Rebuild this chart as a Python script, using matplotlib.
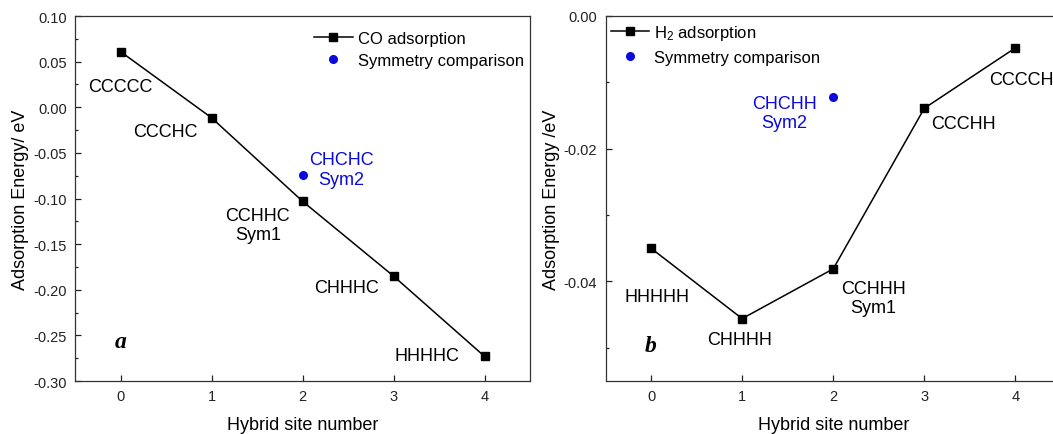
import matplotlib.pyplot as plt
from matplotlib.ticker import MultipleLocator, FormatStrFormatter

plt.rcParams['font.family'] = ['Liberation Sans', 'DejaVu Sans']
plt.rcParams['mathtext.default'] = 'regular'
plt.rcParams['axes.unicode_minus'] = False

# Hybrid site number on the x axis
sites = [0, 1, 2, 3, 4]

# (a) CO adsorption energies (eV)
co_energy = [0.061, -0.0115, -0.103, -0.185, -0.273]
co_labels = ['CCCCC', 'CCCHC', 'CCHHC\nSym1', 'CHHHC', 'HHHHC']
co_label_pos = [(0.0, 0.023), (0.49, -0.0265), (1.51, -0.129), (2.48, -0.197), (3.37, -0.272)]
co_sym_site = 2
co_sym_energy = -0.074
co_sym_label = 'CHCHC\nSym2'
co_sym_label_pos = (2.43, -0.068)

# (b) H2 adsorption energies (eV)
h2_energy = [-0.035, -0.0456, -0.0381, -0.0139, -0.0048]
h2_labels = ['HHHHH', 'CHHHH', 'CCHHH\nSym1', 'CCCHH', 'CCCCH']
h2_label_pos = [(0.06, -0.0422), (0.97, -0.0488), (2.44, -0.0425), (3.43, -0.0162), (4.06, -0.0095)]
h2_sym_site = 2
h2_sym_energy = -0.0122
h2_sym_label = 'CHCHH\nSym2'
h2_sym_label_pos = (1.46, -0.0146)

fig = plt.figure(figsize=(10.53, 4.35), dpi=100)
ax1 = fig.add_axes([75 / 1053, 53 / 435, 455 / 1053, 365 / 435])
ax2 = fig.add_axes([605.5 / 1053, 53 / 435, 455.5 / 1053, 365 / 435])

blue = '#0a0adc'
text_size = 13


def style_axes(ax, ymin, ymax, major, fmt):
    ax.set_xlim(-0.5, 4.5)
    ax.set_ylim(ymin, ymax)
    ax.set_xticks(sites)
    ax.yaxis.set_major_locator(MultipleLocator(major))
    ax.yaxis.set_minor_locator(MultipleLocator(major / 2))
    ax.yaxis.set_major_formatter(FormatStrFormatter(fmt))
    ax.tick_params(which='both', direction='in', top=False, right=False,
                   labelsize=10.5, width=0.9, colors='#222222', pad=6)
    ax.tick_params(which='major', length=4)
    ax.tick_params(which='minor', length=2.5)
    for sp in ax.spines.values():
        sp.set_linewidth(0.9)
        sp.set_color('#333333')
    ax.set_xlabel('Hybrid site number', fontsize=13, labelpad=9)


# panel a
ax1.plot(sites, co_energy, '-s', color='black', lw=1.1, ms=6, label='CO adsorption')
ax1.plot([co_sym_site], [co_sym_energy], 'o', color=blue, ms=5.5, label='Symmetry comparison')
for lab, (x, y) in zip(co_labels, co_label_pos):
    ax1.text(x, y, lab, ha='center', va='center', fontsize=text_size, linespacing=1.2)
ax1.text(*co_sym_label_pos, co_sym_label, ha='center', va='center', color=blue,
         fontsize=text_size, linespacing=1.2)
ax1.text(0, -0.257, 'a', ha='center', va='center', fontsize=17,
         family='Liberation Serif', weight='bold', style='italic')
style_axes(ax1, -0.30, 0.10, 0.05, '%.2f')
ax1.set_ylabel('Adsorption Energy/ eV', fontsize=13, labelpad=3)
ax1.legend(loc='upper left', bbox_to_anchor=(0.526, 0.958), frameon=False,
           fontsize=12, borderpad=0, borderaxespad=0, handlelength=2.3,
           handletextpad=0.3, labelspacing=0.42)

# panel b
ax2.plot(sites, h2_energy, '-s', color='black', lw=1.1, ms=6, label='H$_2$ adsorption')
ax2.plot([h2_sym_site], [h2_sym_energy], 'o', color=blue, ms=5.5, label='Symmetry comparison')
for lab, (x, y) in zip(h2_labels, h2_label_pos):
    ax2.text(x, y, lab, ha='center', va='center', fontsize=text_size, linespacing=1.2)
ax2.text(*h2_sym_label_pos, h2_sym_label, ha='center', va='center', color=blue,
         fontsize=text_size, linespacing=1.2)
ax2.text(0, -0.0497, 'b', ha='center', va='center', fontsize=17,
         family='Liberation Serif', weight='bold', style='italic')
style_axes(ax2, -0.055, 0.0, 0.02, '%.2f')
ax2.set_ylabel('Adsorption Energy /eV', fontsize=13, labelpad=3)
ax2.legend(loc='upper left', bbox_to_anchor=(0.012, 0.982), frameon=False,
           fontsize=12, borderpad=0, borderaxespad=0, handlelength=2.3,
           handletextpad=0.3, labelspacing=0.5)

fig.savefig('out.png', dpi=100)
